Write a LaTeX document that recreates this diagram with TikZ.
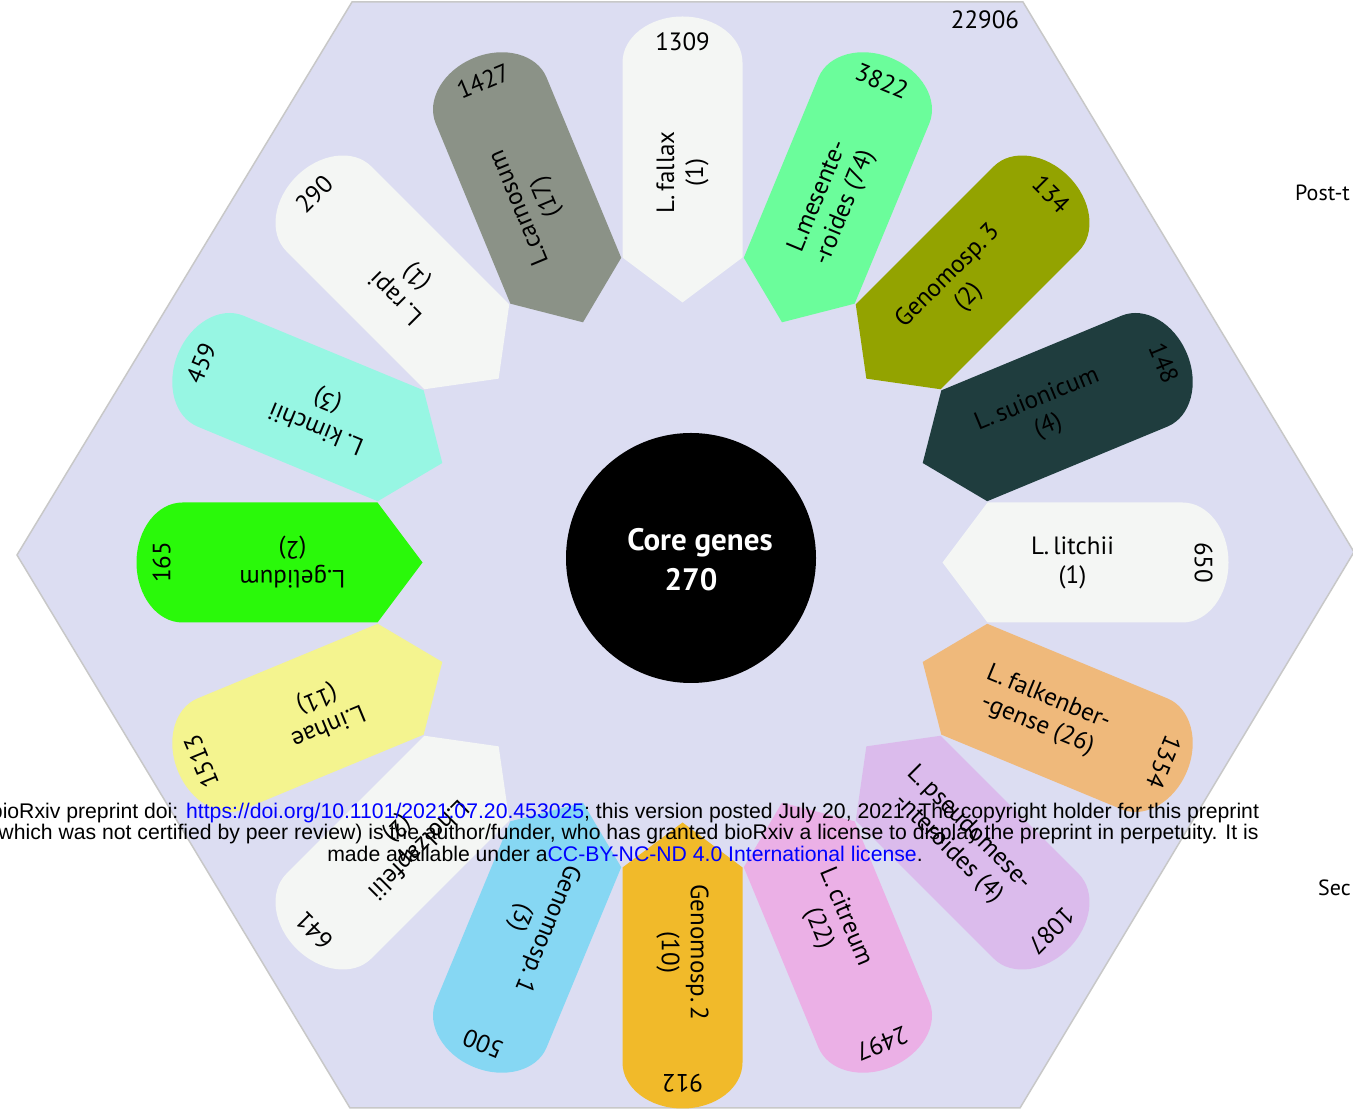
\documentclass[tikz,border=0pt]{standalone}
\usepackage{fontspec}
\setmainfont{PT Sans}
\newfontfamily\wmfont{Liberation Sans}
\definecolor{hexfill}{HTML}{DCDDF2}
\definecolor{hexline}{HTML}{C8C8C8}
\definecolor{pwhite}{HTML}{F4F6F4}
\definecolor{pmint}{HTML}{6BFD9B}
\definecolor{polive}{HTML}{93A300}
\definecolor{pteal}{HTML}{1F3D3E}
\definecolor{ptan}{HTML}{EFB97B}
\definecolor{plav}{HTML}{DBBBEC}
\definecolor{ppink}{HTML}{EBB0E6}
\definecolor{pgold}{HTML}{F1BA2A}
\definecolor{pblue}{HTML}{86D7F3}
\definecolor{pyellow}{HTML}{F4F48F}
\definecolor{pgreen}{HTML}{2AF90A}
\definecolor{paqua}{HTML}{97F6E3}
\definecolor{pgray}{HTML}{8B9287}
\definecolor{linkblue}{HTML}{0000FF}
\begin{document}
\begin{tikzpicture}[x=1pt,y=1pt,
  lbl/.style={font=\fontsize{25}{29}\selectfont, align=center, text=black, inner sep=0pt},
  num/.style={font=\fontsize{25}{29}\selectfont, text=black, inner sep=0pt},
  wm/.style={font=\wmfont\fontsize{21.2}{22}\selectfont, anchor=base, inner sep=0pt, text=black},
  side/.style={font=\fontsize{22}{26}\selectfont, anchor=west, inner sep=0pt, text=black}]
\useasboundingbox (0,0) rectangle (1353,1109);
\clip (0,0) rectangle (1353,1109);
\fill[white] (0,0) rectangle (1353,1109);
% hexagon
\filldraw[fill=hexfill, draw=hexline, line width=1.5pt]
  (17,554) -- (352,1107) -- (1023,1107) -- (1354,557) -- (1020,1) -- (350,1) -- cycle;
% petals
\foreach \a/\c/\t/\n/\nm in {
   90/pwhite/{L.\,fallax\\(1)}/1309/fallax,
   67.5/pmint/{L.mesente-\\-roides (74)}/3822/mesent,
   45/polive/{Genomosp.\,3\\(2)}/134/gthree,
   22.5/pteal/{L.\,suionicum\\(4)}/148/suion,
   0/pwhite/{L.\,litchii\\(1)}/650/litch,
   -22.5/ptan/{L.\,falkenber-\\-gense (26)}/1354/falk,
   -45/plav/{L.\,pseudomese-\\-nteroides (4)}/1087/pseudo,
   -67.5/ppink/{L.\,citreum\\(22)}/2497/citr,
   -90/pgold/{Genomosp.\,2\\(10)}/912/gtwo,
   -112.5/pblue/{Genomosp.\,1\\(3)}/500/gone,
   -135/pwhite/{L.holzapfelii\\(2)}/641/holz,
   -157.5/pyellow/{L.inhae\\(11)}/1513/inhae,
   180/pgreen/{L.gelidum\\(2)}/165/gelid,
   157.5/paqua/{L.\,kimchii\\(3)}/459/kimch,
   135/pwhite/{L.\,rapi\\(1)}/290/rapi,
   112.5/pgray/{L.carnosum\\(17)}/1427/carno}{
  \begin{scope}[shift={(682.5,546.5)}]
    \fill[\c, rotate=\a] (260,0) -- (305,60) -- (500,60)
      arc[start angle=90, end angle=-90, x radius=46, y radius=60]
      -- (305,-60) -- cycle;
    \node[lbl, rotate=\a] (l\nm) at (\a:390) {\t};
    \node[num, rotate=\a-90] (n\nm) at (\a:521) {\n};
  \end{scope}
}
% core
\fill[black] (691,551) circle[radius=125];
\node[font=\bfseries\fontsize{31}{36}\selectfont, text=white, inner sep=0pt] (core) at (700,566) {Core genes};
\node[font=\bfseries\fontsize{31}{36}\selectfont, text=white, inner sep=0pt] (corenum) at (691,529) {270};
% other texts
\node[num] (total) at (985,1089) {22906};
\node[side] (postt) at (1295,916) {Post-t};
\node[side] (sec) at (1318,221) {Sec};
% watermark
\node[wm] (wm1) at (625,290) {bioRxiv preprint doi: \textcolor{linkblue}{https://doi.org/10.1101/2021.07.20.453025}; this version posted July 20, 2021. The copyright holder for this preprint};
\node[wm] (wm2) at (625,269) {(which was not certified by peer review) is the author/funder, who has granted bioRxiv a license to display the preprint in perpetuity. It is};
\node[wm] (wm3) at (625,247) {made available under a\textcolor{linkblue}{CC-BY-NC-ND 4.0 International license}.};
\end{tikzpicture}
\end{document}
